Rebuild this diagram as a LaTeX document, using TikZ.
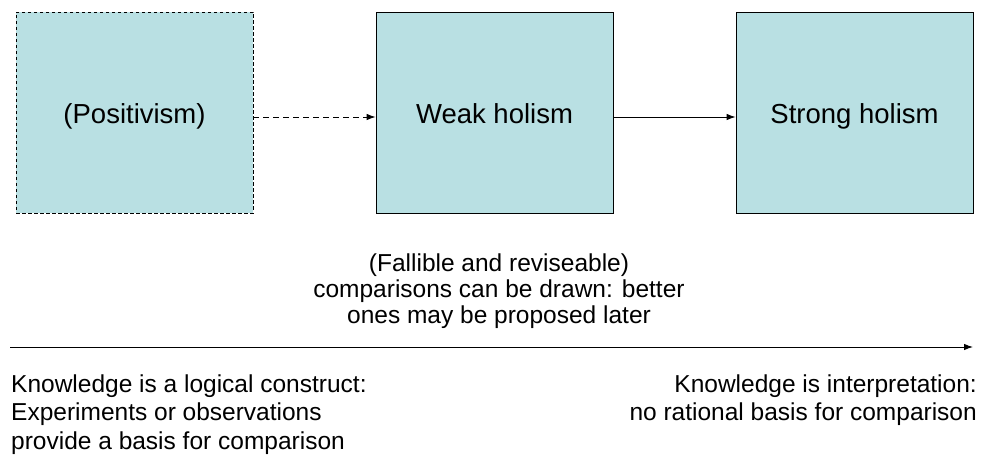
\documentclass[tikz,border=0pt]{standalone}
\usepackage{fontspec}
\setmainfont{Liberation Sans}
\usetikzlibrary{arrows.meta}
\definecolor{boxfill}{RGB}{185,224,227}
\begin{document}
\begin{tikzpicture}[x=1pt,y=-1pt,
  stage/.style={draw=black, fill=boxfill, line width=0.8pt,
    minimum width=237pt, minimum height=201pt, inner sep=0pt,
    text height=23pt, text depth=0pt,
    font=\fontsize{27.5}{30}\selectfont},
  note/.style={inner sep=0pt, font=\fontsize{24.5}{26}\selectfont},
  foot/.style={inner sep=0pt, font=\fontsize{24.5}{28.5}\selectfont},
  link/.style={line width=0.9pt, -{Latex[length=9pt,width=6.5pt]}},
]
\useasboundingbox (0,0) rectangle (982,457);

% the three positions
\node[stage, dash pattern=on 3.5pt off 2.5pt] (pos) at (134.5,112.5) {(Positivism)};
\node[stage] (weak) at (494.5,112.5) {Weak holism};
\node[stage] (strong) at (854.5,112.5) {Strong holism};

% transitions between them
\draw[link, dash pattern=on 6pt off 4pt] ([yshift=-4.5pt]pos.east) -- ([yshift=-4.5pt]weak.west);
\draw[link] ([yshift=-4.5pt]weak.east) -- ([yshift=-4.5pt]strong.west);

% caption above the axis (base anchor sits on the last line)
\node[note, align=center, anchor=base] (mid) at (499,323)
  {(Fallible and reviseable)\\comparisons can be drawn: better\\ones may be proposed later};

% the axis
\coordinate (axisL) at (10,347);
\coordinate (axisR) at (973,347);
\draw[link] (axisL) -- (axisR);

% the two ends of the axis
\node[foot, align=left, anchor=base west] (left) at (11,449)
  {Knowledge is a logical construct:\\Experiments or observations\\provide a basis for comparison};
\node[foot, align=right, anchor=base east] (right) at (977,420.5)
  {Knowledge is interpretation:\\no rational basis for comparison};
\end{tikzpicture}
\end{document}
